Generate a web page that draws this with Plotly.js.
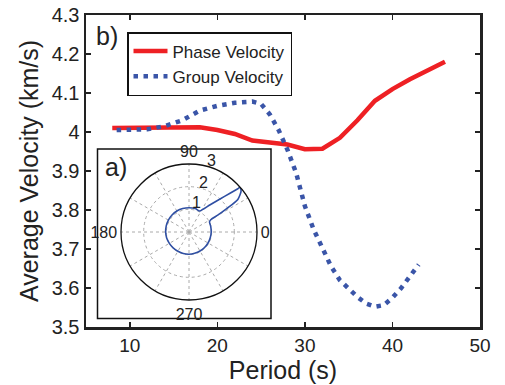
<!DOCTYPE html>
<html>
<head>
<meta charset="utf-8">
<script src="https://cdn.plot.ly/plotly-3.0.1.min.js"></script>
<style>html,body{margin:0;padding:0;background:#fff}#chart{width:505px;height:385px}</style>
</head>
<body>
<div id="chart"></div>
<script>
// Phase velocity (red, solid)
const phasePeriod = [8, 10, 12, 14, 16, 18, 20, 22, 24, 26, 28, 30, 32, 34, 36, 38, 40, 42, 44, 46];
const phaseVel    = [4.01, 4.01, 4.01, 4.01, 4.011, 4.012, 4.005, 3.995, 3.978, 3.972, 3.968, 3.956, 3.957, 3.985, 4.03, 4.08, 4.11, 4.135, 4.158, 4.18];
// Group velocity (blue, dotted)
const groupPeriod = [8.5, 10, 12, 14, 16, 18, 20, 22, 24, 25, 26, 27, 28, 29, 30, 31, 32, 33, 34, 35, 36, 37, 38, 39, 40, 41, 42, 43];
const groupVel    = [4.005, 4.005, 4.007, 4.015, 4.03, 4.055, 4.067, 4.075, 4.078, 4.072, 4.045, 4.005, 3.955, 3.895, 3.81, 3.75, 3.70, 3.655, 3.62, 3.598, 3.577, 3.56, 3.552, 3.556, 3.575, 3.60, 3.63, 3.66];
// Inset a): polar pattern (theta in degrees, radius)
const polarTheta = [63, 75, 90, 105, 120, 135, 150, 165, 180, 195, 210, 225, 240, 255, 270, 285, 300, 315, 330, 345, 0, 15, 26.5, 29.6, 30.4, 31.9, 33.7, 38.1, 41.2, 41.5, 43.4, 46.8, 52.4, 63];
const polarR     = [1.04, 1.07, 1.07, 1.07, 1.07, 1.06, 1.05, 1.04, 1.03, 1.02, 1.0, 0.99, 0.98, 0.98, 0.98, 0.97, 0.97, 0.97, 0.97, 0.97, 0.98, 0.99, 1.01, 1.12, 1.47, 2.01, 2.59, 2.92, 3.0, 2.9, 2.49, 2.0, 1.5, 1.04];
// Tick labels
const xTicks = [10, 20, 30, 40, 50];
const yTicks = [3.5, 3.6, 3.7, 3.8, 3.9, 4.0, 4.1, 4.2, 4.3];
const yTickText = ['3.5', '3.6', '3.7', '3.8', '3.9', '4', '4.1', '4.2', '4.3'];
const angTicks = [0, 30, 60, 90, 120, 150, 180, 210, 240, 270, 300, 330];
const angTickText = ['0', '', '', '90', '', '', '180', '', '', '270', '', ''];
const radTicks = [1, 2, 3];
const radTickText = ['1', '2', '3'];

const FONT = 'Liberation Sans, Arial, Helvetica, sans-serif';
const TXT = '#222';

const data = [
  {x: phasePeriod, y: phaseVel, type: 'scatter', mode: 'lines', name: 'Phase Velocity',
   line: {color: '#ee2024', width: 4.5}},
  {x: groupPeriod, y: groupVel, type: 'scatter', mode: 'lines', name: 'Group Velocity',
   line: {color: '#3a55a8', width: 4.5, dash: '4.5px,5.5px'}},
  {type: 'scatterpolar', r: polarR, theta: polarTheta, mode: 'lines', showlegend: false,
   line: {color: '#2f4fa3', width: 1.6, shape: 'spline', smoothing: 0.6}, subplot: 'polar'}
];

const W = 505, H = 385, L = 86, R = 25, T = 15, B = 58;
const pw = W - L - R, ph = H - T - B;
const px = v => (v - L) / pw;
const py = v => (H - B - v) / ph;

// radial tick labels placed beside the 80-degree spoke (MATLAB style)
const radLabelPos = [[196, 202], [203, 182], [211, 160]];
const radAnn = radTicks.map((v, i) => ({
  text: radTickText[i], xref: 'paper', yref: 'paper',
  x: px(radLabelPos[i][0]), y: py(radLabelPos[i][1]), xanchor: 'center', yanchor: 'middle',
  showarrow: false, font: {size: 16, color: TXT}
}));

const layout = {
  width: W, height: H,
  margin: {l: L, r: R, t: T, b: B},
  paper_bgcolor: '#fff', plot_bgcolor: '#fff',
  font: {family: FONT, color: TXT},
  showlegend: true,
  xaxis: {
    range: [5, 50], tickvals: xTicks, ticks: 'inside', ticklen: 5, tickwidth: 1.5, tickcolor: '#222',
    showline: true, linecolor: '#222', linewidth: 2.5, mirror: 'allticks', showgrid: false, zeroline: false,
    tickfont: {size: 19, color: TXT},
    title: {text: 'Period (s)', font: {size: 25, color: TXT}, standoff: 5}
  },
  yaxis: {
    range: [3.5, 4.3], tickvals: yTicks, ticktext: yTickText, ticks: 'inside', ticklen: 5, tickwidth: 1.5, tickcolor: '#222',
    showline: true, linecolor: '#222', linewidth: 2.5, mirror: 'allticks', showgrid: false, zeroline: false,
    tickfont: {size: 20, color: TXT},
    title: {text: 'Average Velocity (km/s)', font: {size: 25, color: TXT}, standoff: 6}
  },
  legend: {
    x: px(127), y: py(32), xanchor: 'left', yanchor: 'top',
    bgcolor: '#fff', bordercolor: '#111', borderwidth: 1.5,
    font: {size: 17, color: TXT}, tracegroupgap: 0, itemwidth: 34
  },
  polar: {
    domain: {x: [px(121), px(257)], y: [py(300), py(164)]},
    bgcolor: '#fff',
    angularaxis: {
      rotation: 0, direction: 'counterclockwise', tickvals: angTicks, ticktext: angTickText,
      ticks: '', showline: true, linecolor: '#111', linewidth: 1.3,
      gridcolor: '#aaa', griddash: 'dot', gridwidth: 1, tickfont: {size: 16, color: TXT}
    },
    radialaxis: {
      range: [0, 3], tickvals: radTicks, angle: 80, showticklabels: false, showline: false, ticks: '',
      gridcolor: '#aaa', griddash: 'dot', gridwidth: 1
    }
  },
  shapes: [
    {type: 'rect', xref: 'paper', yref: 'paper', x0: px(97.5), x1: px(271), y0: py(318.5), y1: py(149),
     line: {color: '#111', width: 1.5}, fillcolor: '#fff', layer: 'below'}
  ],
  annotations: [
    {text: 'b)', xref: 'paper', yref: 'paper', x: px(94), y: py(36), xanchor: 'left', yanchor: 'middle',
     showarrow: false, font: {size: 25, color: TXT}},
    {text: 'a)', xref: 'paper', yref: 'paper', x: px(103), y: py(167), xanchor: 'left', yanchor: 'middle',
     showarrow: false, font: {size: 25, color: TXT}}
  ].concat(radAnn)
};

Plotly.newPlot('chart', data, layout, {displayModeBar: false, staticPlot: true});
</script>
</body>
</html>
